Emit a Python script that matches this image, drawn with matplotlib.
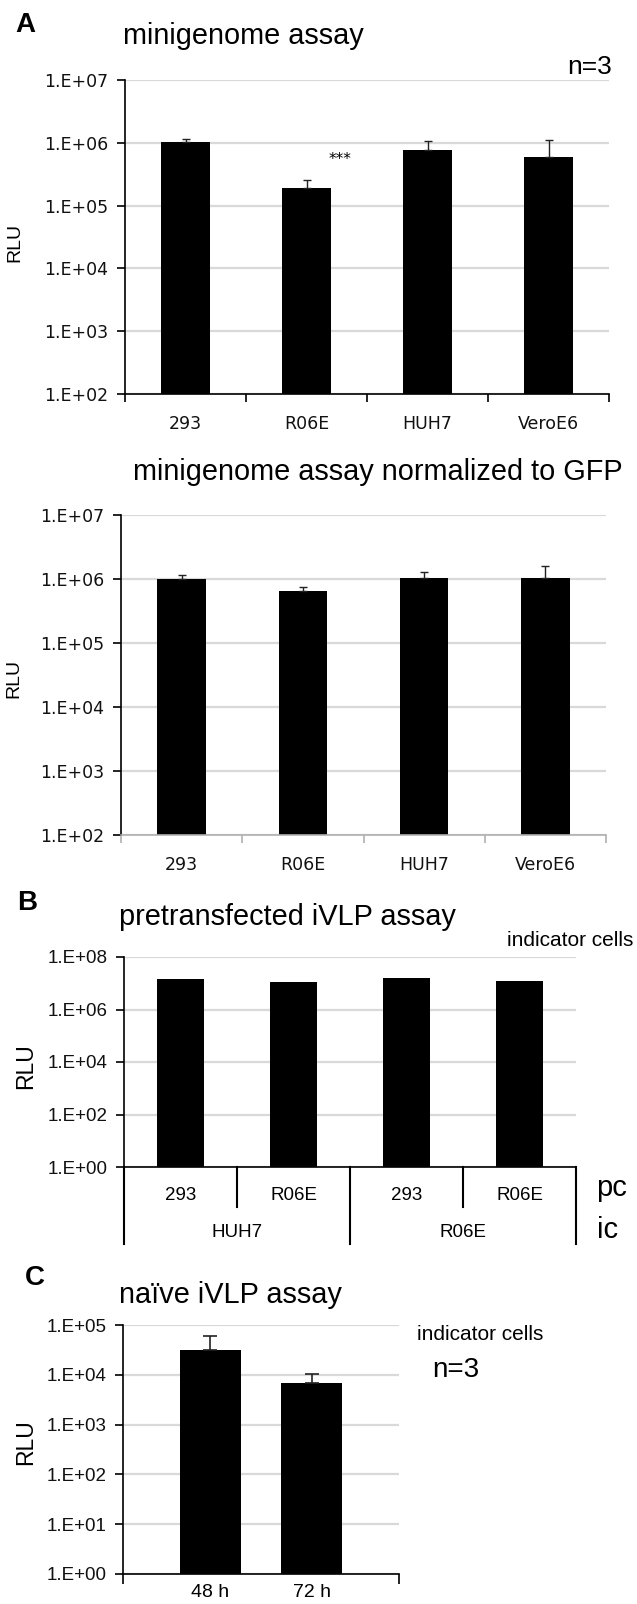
import matplotlib
matplotlib.use('Agg')
import matplotlib.pyplot as plt
from matplotlib.ticker import NullLocator
import numpy as np

# values
cells_a = ['293', 'R06E', 'HUH7', 'VeroE6']
mini_rlu = [1.04e6, 1.91e5, 7.65e5, 6.05e5]
mini_err = [0.13e6, 0.69e5, 2.95e5, 4.97e5]
norm_rlu = [1.0e6, 6.6e5, 1.02e6, 1.04e6]
norm_err = [0.17e6, 0.82e5, 0.28e6, 0.56e6]

pc_labels = ['293', 'R06E', '293', 'R06E']
ic_labels = ['HUH7', 'R06E']
pre_rlu = [1.5e7, 1.1e7, 1.55e7, 1.2e7]

times = ['48 h', '72 h']
naive_rlu = [3.1e4, 7.0e3]
naive_err = [2.95e4, 3.2e3]

W, H = 637, 1604
ARIAL = 'Liberation Sans'
VERD = 'DejaVu Sans'
GRID = '#d9d9d9'

fig = plt.figure(figsize=(W / 100, H / 100), dpi=100)


def add_ax(l, t, r, b):
    return fig.add_axes([l / W, 1 - b / H, (r - l) / W, (b - t) / H])


def ftext(x, y, s, **kw):
    fig.text(x / W, 1 - y / H, s, **kw)


def style_log(ax, lo, hi, step, font, size):
    ax.set_yscale('log')
    ax.set_ylim(10 ** lo, 10 ** hi)
    ks = list(range(lo, hi + 1, step))
    ax.set_yticks([10.0 ** k for k in ks], ['1.E+%02d' % k for k in ks])
    ax.yaxis.set_minor_locator(NullLocator())
    for lab in ax.get_yticklabels():
        lab.set_family(font)
        lab.set_fontsize(size)
        lab.set_color('#111111')
    ax.tick_params(axis='y', length=6, width=1.2, pad=6)
    ax.yaxis.grid(True, color=GRID, lw=1.6)
    ax.set_axisbelow(True)
    ax.spines['top'].set_visible(False)
    ax.spines['right'].set_visible(False)
    ax.spines['left'].set_linewidth(1.2)
    ax.spines['bottom'].set_linewidth(1.2)


def panel_a(ax, vals, errs, bottom_color):
    x = np.arange(len(vals)) + 0.5
    ax.bar(x, vals, width=0.4, color='black', log=True, zorder=2)
    ax.errorbar(x, vals, yerr=[np.zeros(len(errs)), errs], fmt='none', ecolor='#222222',
                elinewidth=1, capsize=3, capthick=1, zorder=3)
    style_log(ax, 2, 7, 1, VERD, 12.5)
    ax.set_xlim(0, len(vals))
    ax.set_xticks(x, cells_a, family=VERD, fontsize=12.5, color='#111111')
    ax.set_xticks(np.arange(len(vals) + 1), minor=True)
    ax.tick_params(axis='x', which='major', length=0, pad=15)
    ax.tick_params(axis='x', which='minor', length=6, width=1.2, color=bottom_color)
    ax.spines['bottom'].set_color(bottom_color)


# ---- A: minigenome assay
ax1 = add_ax(125, 80, 609, 394)
panel_a(ax1, mini_rlu, mini_err, 'black')
ax1.text(1.78, 5.5e5, '***', ha='center', va='center', family=VERD, fontsize=11)
ftext(15, 32, 'A', family=ARIAL, fontsize=20, weight='bold')
ftext(123, 44, 'minigenome assay', family=ARIAL, fontsize=20.8, va='baseline')
ftext(612, 74, 'n=3', family=ARIAL, fontsize=19, ha='right', va='baseline')
ftext(15, 242, 'RLU', family=ARIAL, fontsize=14, rotation=90, ha='center', va='center')

# ---- A: normalized to GFP
ax2 = add_ax(121, 515, 606, 835)
panel_a(ax2, norm_rlu, norm_err, '#b0b0b0')
ftext(133, 480, 'minigenome assay normalized to GFP', family=ARIAL, fontsize=20.8, va='baseline')
ftext(14, 678, 'RLU', family=ARIAL, fontsize=14, rotation=90, ha='center', va='center')

# ---- B: pretransfected iVLP assay
ax3 = add_ax(124, 957, 576, 1167)
xb = np.arange(len(pre_rlu)) + 0.5
ax3.bar(xb, pre_rlu, width=0.41, color='black', log=True, zorder=2)
style_log(ax3, 0, 8, 2, ARIAL, 13.5)
ax3.set_xlim(0, len(pre_rlu))
ax3.set_xticks([])
tr = ax3.get_xaxis_transform()
for i in range(len(pc_labels) + 1):
    depth = -0.367 if i % 2 == 0 else -0.19
    ax3.plot([i, i], [0, depth], transform=tr, color='black', lw=1.5, clip_on=False)
for i, lab in enumerate(pc_labels):
    ax3.text(i + 0.5, -0.135, lab, transform=tr, ha='center', va='center',
             family=ARIAL, fontsize=13.5)
for j, lab in enumerate(ic_labels):
    ax3.text(2 * j + 1, -0.31, lab, transform=tr, ha='center', va='center',
             family=ARIAL, fontsize=13.5)
ftext(17, 910, 'B', family=ARIAL, fontsize=20, weight='bold')
ftext(119, 925, 'pretransfected iVLP assay', family=ARIAL, fontsize=20.8, va='baseline')
ftext(507, 946, 'indicator cells', family=ARIAL, fontsize=15, va='baseline')
ftext(596, 1196, 'pc', family=ARIAL, fontsize=21, va='baseline')
ftext(597, 1238, 'ic', family=ARIAL, fontsize=21, va='baseline')
ftext(26, 1066, 'RLU', family=ARIAL, fontsize=16.5, rotation=90, ha='center', va='center')

# ---- C: naive iVLP assay
ax4 = add_ax(123, 1325, 399, 1574)
xc = np.arange(len(naive_rlu))
ax4.bar(xc, naive_rlu, width=0.61, color='black', log=True, zorder=2)
ax4.errorbar(xc, naive_rlu, yerr=[np.zeros(len(naive_err)), naive_err], fmt='none',
             ecolor='#222222', elinewidth=1.2, capsize=5, capthick=1.2, zorder=3)
style_log(ax4, 0, 5, 1, ARIAL, 13.5)
ax4.set_xlim(-0.865, len(naive_rlu) - 1 + 0.865)
ax4.set_xticks(xc, times, family=ARIAL, fontsize=14)
ax4.set_xticks(list(ax4.get_xlim()), minor=True)
ax4.tick_params(axis='x', which='major', length=0, pad=7)
ax4.tick_params(axis='x', which='minor', length=7, width=1.2)
ftext(25, 1285, 'C', family=ARIAL, fontsize=20, weight='bold')
ftext(119, 1303, 'naïve iVLP assay', family=ARIAL, fontsize=20.8, va='baseline')
ftext(417, 1340, 'indicator cells', family=ARIAL, fontsize=15, va='baseline')
ftext(432, 1377, 'n=3', family=ARIAL, fontsize=20, va='baseline')
ftext(26, 1442, 'RLU', family=ARIAL, fontsize=16.5, rotation=90, ha='center', va='center')

fig.savefig('out.png', dpi=100)
